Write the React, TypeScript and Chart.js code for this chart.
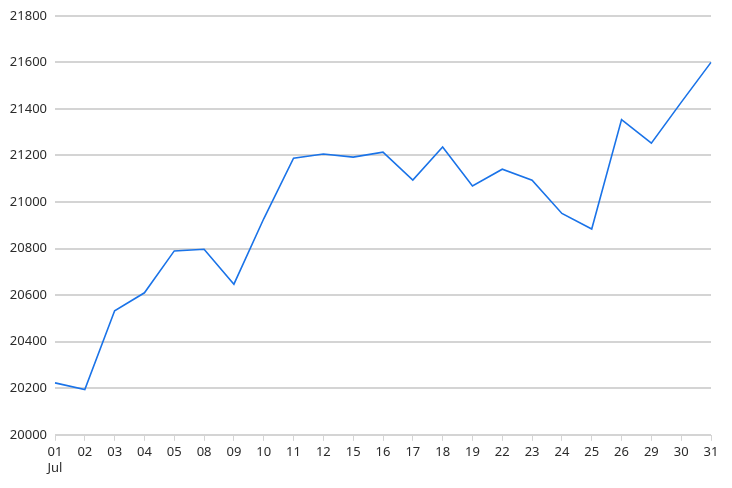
import { useEffect, useRef } from "react";
import Chart from "chart.js/auto";

const days = [
  "01", "02", "03", "04", "05", "08", "09", "10", "11", "12", "15", "16",
  "17", "18", "19", "22", "23", "24", "25", "26", "29", "30", "31",
];
const month = "Jul";
const values = [
  20223, 20194, 20533, 20610, 20790, 20797, 20647, 20928, 21188, 21206,
  21193, 21214, 21094, 21236, 21069, 21141, 21094, 20951, 20884, 21354,
  21253, 21428, 21600,
];
const yMin = 20000;
const yMax = 21800;
const yStep = 200;

export default function App() {
  const canvasRef = useRef<HTMLCanvasElement | null>(null);

  useEffect(() => {
    document.body.style.margin = "0";
    if (canvasRef.current == null) return;

    const chart = new Chart(canvasRef.current, {
      type: "line",
      data: {
        labels: days,
        datasets: [
          {
            data: values,
            borderColor: "#1a73e8",
            borderWidth: 1.6,
            pointRadius: 0,
            tension: 0,
            fill: false,
          },
        ],
      },
      options: {
        animation: false,
        responsive: true,
        maintainAspectRatio: false,
        layout: { padding: { top: 13, right: 21, bottom: 8, left: 0 } },
        plugins: {
          legend: { display: false },
          tooltip: { enabled: false },
        },
        scales: {
          x: {
            offset: false,
            border: { display: false },
            grid: {
              drawOnChartArea: false,
              drawTicks: true,
              tickLength: 6,
              color: "#d4d4d4",
              lineWidth: 1,
            },
            ticks: {
              autoSkip: false,
              maxRotation: 0,
              padding: 4,
              color: "#2b2b2b",
              font: { family: "Noto Sans", size: 13 },
              callback: (_v, i) => (i === 0 ? [days[0], month] : days[i]),
            },
          },
          y: {
            min: yMin,
            max: yMax,
            border: { display: false },
            grid: { drawTicks: false, color: "#d4d4d4", lineWidth: 2 },
            ticks: {
              stepSize: yStep,
              padding: 8,
              color: "#2b2b2b",
              font: { family: "Noto Sans", size: 13 },
              callback: (v) => String(v),
            },
            afterFit: (scale) => {
              scale.width = 55;
            },
          },
        },
      },
    });

    return () => {
      chart.destroy();
    };
  }, []);

  return (
    <div style={{ width: 732, height: 488, background: "#fff" }}>
      <canvas ref={canvasRef}></canvas>
    </div>
  );
}
